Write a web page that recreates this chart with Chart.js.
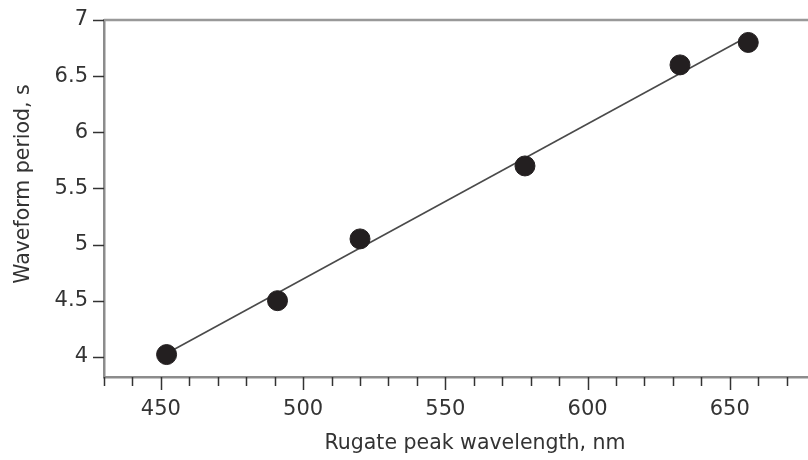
<!DOCTYPE html>
<html lang="en">
<head>
<meta charset="UTF-8">
<title>Waveform period vs rugate peak wavelength</title>
<style>
  body { margin: 0; background: #fff; }
  #wrap { width: 808px; height: 460px; }
</style>
</head>
<body>
<div id="wrap">
  <canvas id="chart" width="808" height="460"></canvas>
</div>
<script src="https://cdn.jsdelivr.net/npm/chart.js"></script>
<script>
// measured points
const wavelength = [452, 491, 520, 578, 632.5, 656.5];
const period = [4.02, 4.5, 5.05, 5.7, 6.6, 6.8];

// fitted line, read at both ends
const fitX = [452, 656.5];
const fitY = [4.03, 6.855];

// axes
const xTickValues = [430, 440, 450, 460, 470, 480, 490, 500, 510, 520, 530, 540, 550, 560, 570, 580, 590, 600, 610, 620, 630, 640, 650, 660, 670];
const xTickLabels = [450, 500, 550, 600, 650];
const yTickValues = [4, 4.5, 5, 5.5, 6, 6.5, 7];
const xTitle = 'Rugate peak wavelength, nm';
const yTitle = 'Waveform period, s';

const textColor = '#333';
const axisColor = '#8c8c8c';
const font = 'DejaVu Sans';

const framePlugin = {
    id: 'frame',
    afterDraw(chart) {
        const ctx = chart.ctx;
        const area = chart.chartArea;
        const x = chart.scales.x;
        const y = chart.scales.y;
        ctx.save();

        // top line
        ctx.strokeStyle = '#999';
        ctx.lineWidth = 2.5;
        ctx.beginPath();
        ctx.moveTo(area.left, area.top);
        ctx.lineTo(area.right, area.top);
        ctx.stroke();

        // tick marks
        ctx.strokeStyle = '#333';
        ctx.lineWidth = 1.5;
        xTickValues.forEach(v => {
            const px = Math.round(x.getPixelForValue(v)) + 0.5;
            const len = xTickLabels.includes(v) ? 13 : 9;
            ctx.beginPath();
            ctx.moveTo(px, area.bottom);
            ctx.lineTo(px, area.bottom + len);
            ctx.stroke();
        });
        yTickValues.forEach(v => {
            const py = Math.round(y.getPixelForValue(v)) + 0.5;
            ctx.beginPath();
            ctx.moveTo(area.left - 11, py);
            ctx.lineTo(area.left, py);
            ctx.stroke();
        });

        // axis titles
        ctx.fillStyle = textColor;
        ctx.font = '20.5px "' + font + '"';
        ctx.textAlign = 'center';
        ctx.textBaseline = 'middle';
        ctx.fillText(xTitle, 475, 444);
        ctx.translate(24, 184);
        ctx.rotate(-Math.PI / 2);
        ctx.fillText(yTitle, 0, 0);
        ctx.restore();
    }
};

new Chart(document.getElementById('chart'), {
    data: {
        datasets: [
            {
                type: 'scatter',
                data: wavelength.map((w, i) => ({ x: w, y: period[i] })),
                backgroundColor: '#231f20',
                borderColor: '#231f20',
                pointRadius: 10,
                pointHoverRadius: 10,
                order: 1
            },
            {
                type: 'line',
                data: fitX.map((w, i) => ({ x: w, y: fitY[i] })),
                borderColor: '#4a4a4a',
                borderWidth: 1.6,
                pointRadius: 0,
                fill: false,
                order: 2
            }
        ]
    },
    options: {
        responsive: false,
        animation: false,
        devicePixelRatio: 1,
        layout: { autoPadding: false, padding: { top: 20, right: 0, left: 0, bottom: 0 } },
        plugins: {
            legend: { display: false },
            tooltip: { enabled: false }
        },
        scales: {
            x: {
                type: 'linear',
                min: 430,
                max: 677.5,
                afterBuildTicks: scale => { scale.ticks = xTickValues.map(v => ({ value: v })); },
                afterFit: scale => {
                    scale.height = 83;
                    scale.paddingLeft = 0;
                    scale.paddingRight = 0;
                },
                grid: { display: false, drawTicks: false },
                border: { display: true, color: axisColor, width: 2.5 },
                ticks: {
                    autoSkip: false,
                    maxRotation: 0,
                    padding: 20,
                    color: textColor,
                    font: { family: font, size: 21 },
                    callback: v => xTickLabels.includes(v) ? String(v) : ''
                },
                title: { display: false }
            },
            y: {
                type: 'linear',
                min: 3.82,
                max: 7,
                afterBuildTicks: scale => { scale.ticks = yTickValues.map(v => ({ value: v })); },
                afterFit: scale => {
                    scale.width = 104;
                    scale.paddingTop = 0;
                    scale.paddingBottom = 0;
                },
                grid: { display: false, drawTicks: false },
                border: { display: true, color: axisColor, width: 2.5 },
                ticks: {
                    padding: 16,
                    color: textColor,
                    font: { family: font, size: 21 },
                    callback: v => String(v)
                },
                title: { display: false }
            }
        }
    },
    plugins: [framePlugin]
});
</script>
</body>
</html>
